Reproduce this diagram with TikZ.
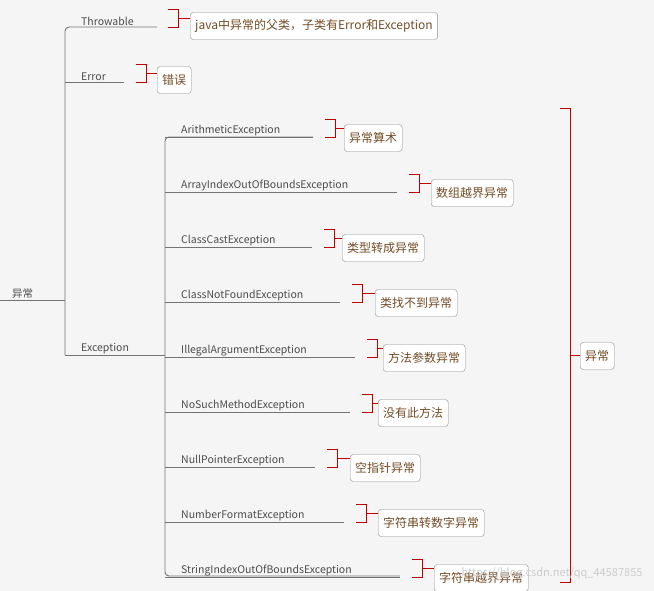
\documentclass[tikz,border=0pt]{standalone}
\usepackage{fontspec}
\setmainfont{Noto Sans CJK SC}
\begin{document}
\begin{tikzpicture}[x=1pt,y=-1pt,
  lbl/.style={anchor=south west,inner sep=1pt,font=\fontsize{10.5}{12}\selectfont,text=black!70},
  tline/.style={draw=black!55,line width=0.9pt},
  brk/.style={draw=red!75!black,line width=0.9pt},
  bx/.style={draw=black!45,fill=white,rounded corners=3pt,anchor=west,minimum height=27pt,inner xsep=5pt,font=\fontsize{12}{14}\selectfont,text=brown!60!black}]
\fill[black!4] (0,0) rectangle (654,591);
\useasboundingbox (0,0) rectangle (654,591);
% root
\node[lbl] (root) at (11,300) {异常};
\coordinate (r0) at (0,300); \coordinate (r1) at (65,300);
\draw[tline] (r0) -- (r1);
\draw[tline,rounded corners=4pt] (157,27) -- (65,27) -- (65,355);
\draw[tline] (65,355) -- (165,355);
\draw[tline] (65,82) -- (124,82);
\node[lbl] (thr) at (80,27) {Throwable};
\node[lbl] (err) at (80,82) {Error};
\node[lbl] (exc) at (80,355) {Exception};
% brackets for top
\draw[brk] (168,9) -- (178,9) -- (178,27) -- (168,27) (178,18) -- (190,18);
\node[bx] (b1) at (190,26) {java中异常的父类，子类有Error和Exception};
\draw[brk] (136,64) -- (146,64) -- (146,82) -- (136,82) (146,73) -- (157,73);
\node[bx] (b2) at (157,80) {错误};
% children
\draw[tline,rounded corners=4pt] (313,137) -- (165,137) -- (165,576) -- (400,576);
\foreach \i/\t/\e/\bxx/\bt in {0/ArithmeticException/313/344/异常算术,
 1/ArrayIndexOutOfBoundsException/397/431/数组越界异常,
 2/ClassCastException/312/342/类型转成异常,
 3/ClassNotFoundException/340/375/类找不到异常,
 4/IllegalArgumentException/355/383/方法参数异常,
 5/NoSuchMethodException/350/378/没有此方法,
 6/NullPointerException/315/350/空指针异常,
 7/NumberFormatException/344/378/字符串转数字异常,
 8/StringIndexOutOfBoundsException/400/434/字符串越界异常}{
  \pgfmathsetmacro{\yy}{137+55*\i}
  \draw[tline] (165,\yy) -- (\e,\yy);
  \node[lbl] (c\i) at (180,\yy) {\t};
  \draw[brk] (\e+12,\yy-18) -- (\e+22,\yy-18) -- (\e+22,\yy) -- (\e+12,\yy) (\e+22,\yy-9) -- (\bxx,\yy-9);
  \node[bx] (d\i) at (\bxx,\yy+1) {\bt};
}
% big bracket
\draw[brk] (560,108) -- (570,108) -- (570,582) -- (560,582) (570,355) -- (580,355);
\node[bx] (big) at (580,356) {异常};
\node[anchor=east,font=\fontsize{11}{13}\selectfont,text=black!20] (wm) at (646,573) {https://blog.csdn.net/qq\_44587855};
\end{tikzpicture}
\end{document}
